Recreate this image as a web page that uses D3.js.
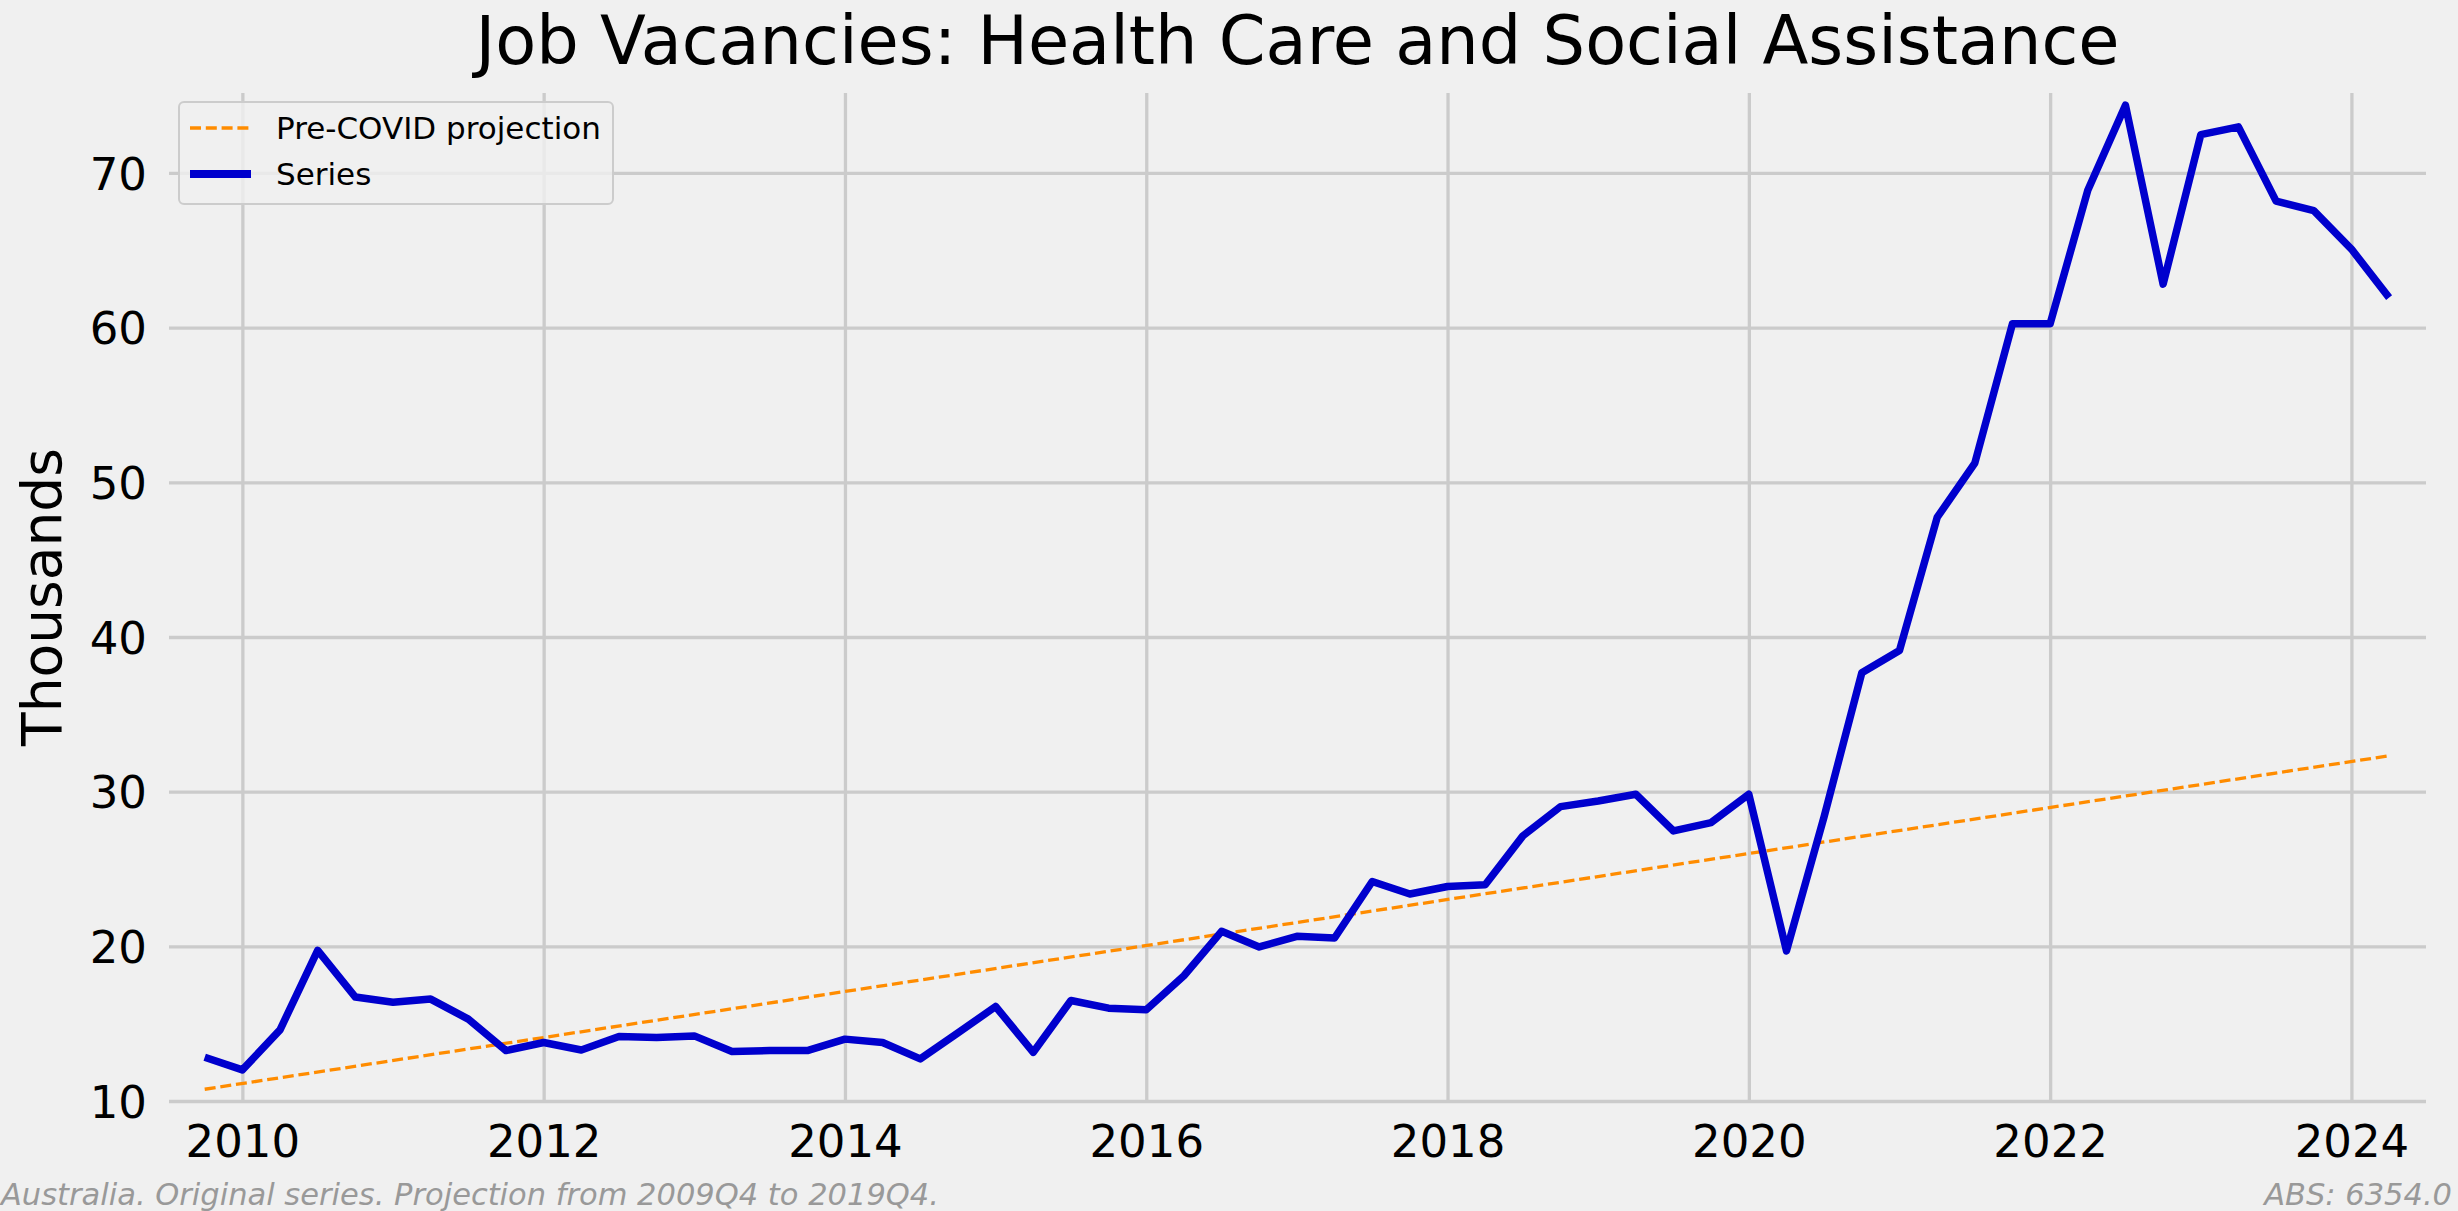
<!DOCTYPE html>
<html>
<head>
<meta charset="utf-8">
<script src="https://cdn.jsdelivr.net/npm/d3@7"></script>
<style>
  html, body { margin: 0; padding: 0; background: #f0f0f0; }
  svg { display: block; }
  text { font-family: "DejaVu Sans", sans-serif; }
</style>
</head>
<body>
<script>
// ---------------- data ----------------
const quarters = [
  "2009Q4",
  "2010Q1","2010Q2","2010Q3","2010Q4",
  "2011Q1","2011Q2","2011Q3","2011Q4",
  "2012Q1","2012Q2","2012Q3","2012Q4",
  "2013Q1","2013Q2","2013Q3","2013Q4",
  "2014Q1","2014Q2","2014Q3","2014Q4",
  "2015Q1","2015Q2","2015Q3","2015Q4",
  "2016Q1","2016Q2","2016Q3","2016Q4",
  "2017Q1","2017Q2","2017Q3","2017Q4",
  "2018Q1","2018Q2","2018Q3","2018Q4",
  "2019Q1","2019Q2","2019Q3","2019Q4",
  "2020Q1","2020Q2","2020Q3","2020Q4",
  "2021Q1","2021Q2","2021Q3","2021Q4",
  "2022Q1","2022Q2","2022Q3","2022Q4",
  "2023Q1","2023Q2","2023Q3","2023Q4",
  "2024Q1","2024Q2"
];
const vacancies = [
  12.83,
  12.01, 14.60, 19.74, 16.72,
  16.39, 16.59, 15.29, 13.26,
  13.78, 13.30, 14.17, 14.10,
  14.21, 13.20, 13.26, 13.26,
  14.00, 13.78, 12.72, 14.40,
  16.11, 13.15, 16.50, 16.00,
  15.90, 18.10, 20.97, 19.96,
  20.65, 20.54, 24.19, 23.38,
  23.87, 23.98, 27.14, 29.03,
  29.40, 29.83, 27.46, 28.00,
  29.83, 19.71, 28.40, 37.69,
  39.13, 47.73, 51.24, 60.25,
  60.25, 68.88, 74.38, 62.81,
  72.48, 72.98, 68.18, 67.56,
  65.08, 61.94
];
const projectionQuarters = ["2009Q4", "2024Q2"];
const projectionValues = [10.76, 32.32];
const yTicks = [10, 20, 30, 40, 50, 60, 70];
const xTicks = [2010, 2012, 2014, 2016, 2018, 2020, 2022, 2024];

const titleText = "Job Vacancies: Health Care and Social Assistance";
const yLabelText = "Thousands";
const seriesName = "Series";
const projectionName = "Pre-COVID projection";
const footLeft = "Australia. Original series. Projection from 2009Q4 to 2019Q4.";
const footRight = "ABS: 6354.0";

// ---------------- layout ----------------
const W = 2458, H = 1211;
const plot = { left: 169, right: 2426, top: 93, bottom: 1101 };
const xDomain = [2009.513, 2024.495];
const yDomain = [10, 75.17];

const qToYear = q => +q.slice(0, 4) + (+q.slice(5) - 1) * 0.25;

const series = quarters.map((q, i) => ({ x: qToYear(q), y: vacancies[i] }));
const projection = projectionQuarters.map((q, i) => ({ x: qToYear(q), y: projectionValues[i] }));

const svg = d3.select("body").append("svg")
  .attr("width", W).attr("height", H)
  .style("background", "#f0f0f0");

const x = d3.scaleLinear().domain(xDomain).range([plot.left, plot.right]);
const y = d3.scaleLinear().domain(yDomain).range([plot.bottom, plot.top]);

// grid
const gridColor = "#cbcbcb";
const gx = svg.append("g")
  .attr("transform", `translate(0,${plot.bottom})`)
  .call(d3.axisBottom(x).tickValues(xTicks).tickSize(-(plot.bottom - plot.top)).tickFormat(""));
const gy = svg.append("g")
  .attr("transform", `translate(${plot.left},0)`)
  .call(d3.axisLeft(y).tickValues(yTicks).tickSize(-(plot.right - plot.left)).tickFormat(""));
[gx, gy].forEach(g => {
  g.select(".domain").remove();
  g.selectAll(".tick line").attr("stroke", gridColor).attr("stroke-width", 3.3);
});

// tick labels
const ax = svg.append("g")
  .attr("transform", `translate(0,${plot.bottom})`)
  .call(d3.axisBottom(x).tickValues(xTicks).tickSize(0).tickPadding(0).tickFormat(d3.format("d")));
ax.select(".domain").remove();
ax.selectAll(".tick text")
  .attr("y", 56).attr("dy", 0)
  .attr("fill", "#000")
  .style("font-size", "45px")
  .style("font-family", "'DejaVu Sans', sans-serif");

const ay = svg.append("g")
  .attr("transform", `translate(${plot.left},0)`)
  .call(d3.axisLeft(y).tickValues(yTicks).tickSize(0).tickPadding(0).tickFormat(d3.format("d")));
ay.select(".domain").remove();
ay.selectAll(".tick text")
  .attr("x", -22).attr("dy", "0.36em")
  .attr("fill", "#000")
  .style("font-size", "45px")
  .style("font-family", "'DejaVu Sans', sans-serif");

// lines
const line = d3.line().x(d => x(d.x)).y(d => y(d.y));

svg.append("path")
  .datum(projection)
  .attr("d", line)
  .attr("fill", "none")
  .attr("stroke", "#ff8c00")
  .attr("stroke-width", 3.3)
  .attr("stroke-dasharray", "11,4.8");

svg.append("path")
  .datum(series)
  .attr("d", line)
  .attr("fill", "none")
  .attr("stroke", "#0000cd")
  .attr("stroke-width", 7.5)
  .attr("stroke-linejoin", "round")
  .attr("stroke-linecap", "butt");

// title
svg.append("text")
  .attr("x", (plot.left + plot.right) / 2)
  .attr("y", 64)
  .attr("text-anchor", "middle")
  .style("font-size", "67px")
  .attr("fill", "#000")
  .text(titleText);

// y label
svg.append("text")
  .attr("transform", `translate(61,${(plot.top + plot.bottom) / 2}) rotate(-90)`)
  .attr("text-anchor", "middle")
  .style("font-size", "55px")
  .attr("fill", "#000")
  .text(yLabelText);

// legend
const lg = svg.append("g");
lg.append("rect")
  .attr("x", 179).attr("y", 102)
  .attr("width", 434).attr("height", 102)
  .attr("rx", 5).attr("ry", 5)
  .attr("fill", "#f0f0f0").attr("fill-opacity", 0.8)
  .attr("stroke", "#cccccc").attr("stroke-width", 2);
const legendItems = [
  { name: projectionName, color: "#ff8c00", width: 3.3, dash: "11,4.8", yy: 128 },
  { name: seriesName, color: "#0000cd", width: 8, dash: null, yy: 174 }
];
legendItems.forEach(it => {
  lg.append("line")
    .attr("x1", 190).attr("x2", 251)
    .attr("y1", it.yy).attr("y2", it.yy)
    .attr("stroke", it.color)
    .attr("stroke-width", it.width)
    .attr("stroke-dasharray", it.dash);
  lg.append("text")
    .attr("x", 276).attr("y", it.yy + 11)
    .style("font-size", "31px")
    .attr("fill", "#000")
    .text(it.name);
});

// footers
svg.append("text")
  .attr("x", 1).attr("y", 1205)
  .attr("text-anchor", "start")
  .style("font-size", "30.5px")
  .style("font-style", "italic")
  .attr("fill", "#999999")
  .text(footLeft);
svg.append("text")
  .attr("x", 2452).attr("y", 1205)
  .attr("text-anchor", "end")
  .style("font-size", "30.5px")
  .style("font-style", "italic")
  .attr("fill", "#999999")
  .text(footRight);
</script>
</body>
</html>
